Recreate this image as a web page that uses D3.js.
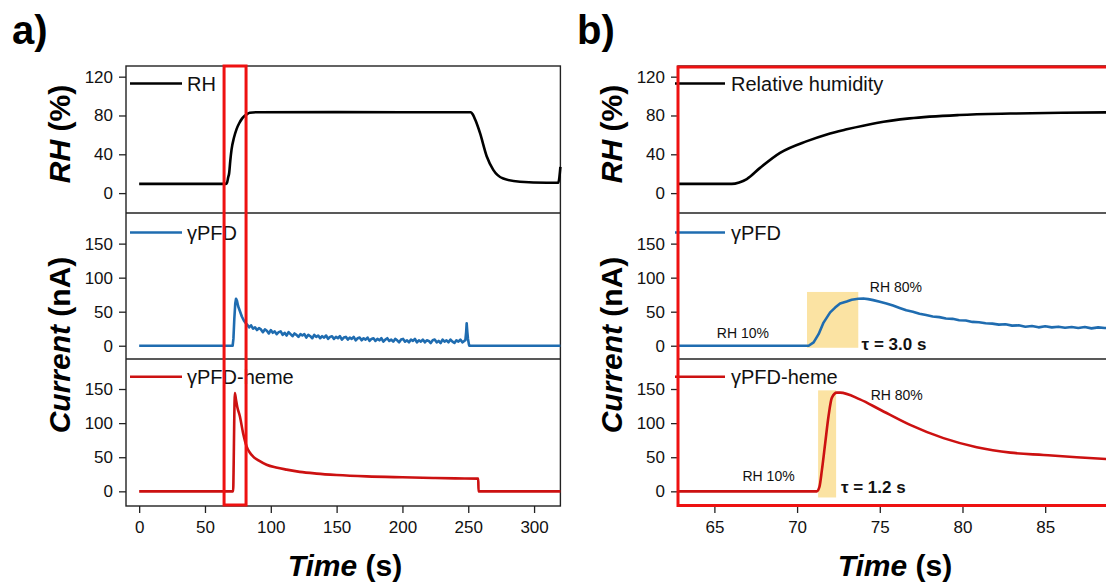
<!DOCTYPE html>
<html>
<head>
<meta charset="utf-8">
<script src="https://cdn.jsdelivr.net/npm/d3@7"></script>
<style>
  html, body { margin: 0; padding: 0; background: #fff; }
  svg { display: block; }
  text { font-family: "Liberation Sans", Arial, Helvetica, sans-serif; }
</style>
</head>
<body>
<svg id="chart" width="1106" height="586"></svg>
<script>
// ---------- Data: full run (panel a) ----------
const rhFull = [
  [0, 9.5], [65.9, 9.5], [66.8, 11], [67.6, 16], [68.4, 21], [69.2, 33], [70.2, 45],
  [72, 57], [74, 66], [76, 72], [78, 76.5], [80, 79.5], [82, 81.5], [84, 82.8],
  [90, 83.4], [150, 83.5], [200, 83.4], [252, 83.3], [253.5, 81], [255.5, 75],
  [258.9, 62], [264, 38], [269, 24], [276.6, 15], [289.3, 11.7], [309.6, 10.7],
  [318.4, 10.7], [319.2, 16], [320, 27]
];

const pfdFull = [
  [0, 0], [71, 0], [71.6, 10], [72.3, 40], [73, 62], [73.6, 69], [74.3, 66], [75.2, 58],
  [76.5, 51], [78, 43], [79.5, 37], [81, 33],
  [82, 31], [83.5, 27], [85, 30], [86.5, 25], [88, 27], [89.5, 23], [91, 26], [92.5, 24],
  [94, 20], [95.5, 24], [97, 22], [98.5, 18], [100, 23], [101.5, 19], [103, 21], [104.5, 17],
  [106, 20], [107.5, 21], [109, 16], [110.5, 19], [112, 15], [113.5, 20], [115, 17], [116.5, 14],
  [118, 18], [119.5, 16], [121, 13], [122.5, 17], [124, 15], [125.5, 17], [127, 12], [128.5, 16],
  [130, 14], [131.5, 11], [133, 16], [134.5, 13], [136, 15], [137.5, 11], [139, 14], [140.5, 12],
  [142, 15], [143.5, 10], [145, 13], [146.5, 14], [148, 10], [149.5, 13], [151, 11], [152.5, 14],
  [154, 9], [155.5, 12], [157, 13], [158.5, 9], [160, 12], [161.5, 10], [163, 13], [164.5, 8],
  [166, 11], [167.5, 12], [169, 8], [170.5, 11], [172, 9], [173.5, 12], [175, 7], [176.5, 10],
  [178, 11], [179.5, 7], [181, 10], [182.5, 8], [184, 11], [185.5, 6], [187, 9], [188.5, 11],
  [190, 7], [191.5, 9], [193, 6], [194.5, 10], [196, 8], [197.5, 5], [199, 9], [200.5, 10],
  [202, 6], [203.5, 8], [205, 5], [206.5, 9], [208, 7], [209.5, 10], [211, 5], [212.5, 8],
  [214, 6], [215.5, 9], [217, 5], [218.5, 8], [220, 7], [221.5, 4], [223, 8], [224.5, 9],
  [226, 5], [227.5, 7], [229, 4], [230.5, 9], [232, 6], [233.5, 8], [235, 5], [236.5, 9],
  [238, 6], [239.5, 4], [241, 8], [242.5, 6], [244, 9], [245.5, 5], [247, 7],
  [247.8, 8], [248.4, 20], [248.8, 33], [249.3, 20], [249.8, 10], [250.5, 2], [250.8, 0],
  [320, 0]
];

const hemeFull = [
  [0, 0], [71.4, 0], [71.8, 40], [72.2, 100], [72.7, 144], [73.5, 135], [74.5, 124],
  [76.5, 110], [79, 85], [81.6, 66], [84, 57], [86.6, 51], [91, 45], [96.8, 39],
  [104, 35], [112, 31.8], [122, 28.5], [134.8, 26], [150, 24], [172.8, 22],
  [200, 20.6], [223.4, 19.6], [240, 19], [257.6, 18.6], [257.8, 0], [320, 0]
];

// ---------- Data: zoomed step (panel b) ----------
const rhZoom = [
  [62.8, 9.5], [66.05, 9.5], [66.5, 11], [66.96, 14.5], [67.76, 26], [68.97, 41.5],
  [70.6, 53.6], [71.8, 60.5], [73, 65.7], [74.8, 72.3], [76.8, 77], [79.8, 80.5],
  [82.9, 82], [86, 82.8], [89, 83.2]
];

const pfdZoom = [
  [62.8, 0], [70.7, 0], [71.0, 5], [71.3, 17], [71.6, 34], [72.0, 49], [72.3, 56],
  [72.6, 62], [73.0, 65], [73.3, 67.5], [73.7, 69], [74.0, 69.5], [74.3, 68.5],
  [74.6, 67], [75.0, 64.5], [75.4, 62], [75.8, 59], [76.2, 55.5], [76.6, 52],
  [77.0, 50], [77.4, 47], [77.8, 45], [78.2, 43], [78.6, 42], [79.0, 40],
  [79.4, 39.5], [79.8, 37.5], [80.2, 37], [80.6, 35], [81.0, 34.5], [81.4, 33],
  [81.8, 32.5], [82.2, 31], [82.6, 31.5], [83.0, 29.5], [83.4, 30], [83.8, 28],
  [84.2, 29], [84.6, 27], [85.0, 28.5], [85.4, 27], [85.8, 28], [86.2, 26.5],
  [86.6, 27.5], [87.0, 26], [87.4, 27.5], [87.8, 25.5], [88.2, 27], [88.6, 26],
  [89, 26.5]
];

const hemeZoom = [
  [62.8, 0], [71.19, 0], [71.35, 6.4], [71.5, 31], [71.7, 70.6], [71.9, 110],
  [72.1, 137], [72.4, 144.7], [72.6, 144.7], [73.8, 134.8], [75.0, 120],
  [76.8, 97.8], [78.85, 78], [80.86, 64.7], [82.9, 56.7], [84.9, 53.3],
  [86.9, 50], [89, 47]
];

// Response-time windows [t0, t1, yLow, yHigh] and their labels
const pfdWindow = [70.6, 73.7, -3, 79];
const hemeWindow = [71.27, 72.36, -9, 148];
const pfdNotes = [
  { text: "RH 10%", t: 65.15, v: 12, bold: false },
  { text: "RH 80%", t: 74.4, v: 79, bold: false },
  { text: "τ = 3.0 s", t: 73.9, v: -6, bold: true }
];
const hemeNotes = [
  { text: "RH 10%", t: 66.7, v: 15, bold: false },
  { text: "RH 80%", t: 74.45, v: 134, bold: false },
  { text: "τ = 1.2 s", t: 72.65, v: -2.5, bold: true }
];

// Ticks and labels
const rhTicks = [0, 40, 80, 120];
const curTicks = [0, 50, 100, 150];
const timeTicksFull = [0, 50, 100, 150, 200, 250, 300];
const timeTicksZoom = [65, 70, 75, 80, 85];
const zoomWindow = [64.5, 81.2];

const colors = { rh: "#000000", pfd: "#1f6cb0", heme: "#cc1111", frame: "#ee1111", tau: "#fbe3a3" };

// ---------- Layout ----------
const svg = d3.select("#chart");
const rowTop = 66, row1 = 213, row2 = 359, rowBottom = 506;

const yRH = d3.scaleLinear().domain([-20.5, 131]).range([row1, rowTop]);
const yCur1 = d3.scaleLinear().domain([-19.5, 195]).range([row2, row1]);
const yCur2 = d3.scaleLinear().domain([-21.5, 194]).range([rowBottom, row2]);

function drawPanel(opt) {
  const g = svg.append("g");
  const x = opt.x;
  const [x0, x1] = x.range();

  // response-time shading goes under the traces
  (opt.windows || []).forEach(w => {
    const ys = w.y;
    g.append("rect")
      .attr("x", x(w.box[0])).attr("width", x(w.box[1]) - x(w.box[0]))
      .attr("y", ys(w.box[3])).attr("height", ys(w.box[2]) - ys(w.box[3]))
      .attr("fill", colors.tau);
  });

  // frame and row dividers
  g.append("rect").attr("x", x0).attr("y", rowTop).attr("width", x1 - x0)
    .attr("height", rowBottom - rowTop).attr("fill", "none")
    .attr("stroke", "#222").attr("stroke-width", 1.4);
  [row1, row2].forEach(yy => g.append("line")
    .attr("x1", x0).attr("x2", x1).attr("y1", yy).attr("y2", yy)
    .attr("stroke", "#222").attr("stroke-width", 1.4));

  const rows = [
    { y: yRH, ticks: rhTicks, data: opt.rh, color: colors.rh, label: opt.rhLabel, legY: rowTop + 17.5, curve: d3.curveMonotoneX },
    { y: yCur1, ticks: curTicks, data: opt.pfd, color: colors.pfd, label: "γPFD", legY: row1 + 19.5, curve: d3.curveLinear },
    { y: yCur2, ticks: curTicks, data: opt.heme, color: colors.heme, label: "γPFD-heme", legY: row2 + 17.7, curve: d3.curveMonotoneX }
  ];

  rows.forEach(r => {
    const ax = g.append("g").attr("transform", `translate(${x0},0)`)
      .call(d3.axisLeft(r.y).tickValues(r.ticks).tickSize(7).tickPadding(6).tickSizeOuter(0));
    ax.select(".domain").remove();
    ax.selectAll("line").attr("stroke", "#222").attr("stroke-width", 1.3);
    ax.selectAll("text").attr("font-size", 17).attr("fill", "#111")
      .style("font-family", '"Liberation Sans", Arial, sans-serif');

    const line = d3.line().x(d => x(d[0])).y(d => r.y(d[1])).curve(r.curve);
    g.append("path").datum(r.data).attr("d", line)
      .attr("fill", "none").attr("stroke", r.color).attr("stroke-width", 2.6)
      .attr("stroke-linejoin", "round");

    g.append("line").attr("x1", x0 + opt.leg[0]).attr("x2", x0 + opt.leg[1])
      .attr("y1", r.legY).attr("y2", r.legY)
      .attr("stroke", r.color).attr("stroke-width", 2.6);
    g.append("text").attr("x", x0 + opt.leg[2]).attr("y", r.legY + 7.5)
      .attr("font-size", 20).attr("fill", "#111").text(r.label);
  });

  // bottom time axis
  const xa = g.append("g").attr("transform", `translate(0,${rowBottom})`)
    .call(d3.axisBottom(x).tickValues(opt.xTicks).tickSize(7).tickPadding(8).tickSizeOuter(0));
  xa.select(".domain").remove();
  xa.selectAll("line").attr("stroke", "#222").attr("stroke-width", 1.3);
  xa.selectAll("text").attr("font-size", 17).attr("fill", "#111")
    .style("font-family", '"Liberation Sans", Arial, sans-serif');

  // annotations
  (opt.notes || []).forEach(n => {
    n.items.forEach(it => {
      g.append("text").attr("x", x(it.t)).attr("y", n.y(it.v))
        .attr("font-size", it.bold ? 17 : 14)
        .attr("font-weight", it.bold ? "bold" : "normal")
        .attr("fill", "#111").text(it.text);
    });
  });

  // axis titles
  const yTitle = (cx, cy, ital, rest) => {
    const t = g.append("text").attr("transform", `translate(${cx},${cy}) rotate(-90)`)
      .attr("text-anchor", "middle").attr("font-size", 30).attr("font-weight", "bold");
    t.append("tspan").attr("font-style", "italic").text(ital);
    t.append("tspan").text(rest);
  };
  yTitle(opt.titleX, 134, "RH", " (%)");
  yTitle(opt.titleX, 345, "Current", " (nA)");
  const xt = g.append("text").attr("x", opt.timeX).attr("y", 576)
    .attr("text-anchor", "middle").attr("font-size", 30).attr("font-weight", "bold");
  xt.append("tspan").attr("font-style", "italic").text("Time");
  xt.append("tspan").text(" (s)");

  svg.append("text").attr("x", opt.tagX).attr("y", 44).attr("font-size", 40)
    .attr("font-weight", "bold").attr("fill", "#000").text(opt.tag);

  return g;
}

// Panel a: whole humidity cycle
const xFull = d3.scaleLinear().domain([-10, 320]).range([126, 560.4]);
const gA = drawPanel({
  x: xFull, rh: rhFull, pfd: pfdFull, heme: hemeFull, rhLabel: "RH",
  xTicks: timeTicksFull, leg: [4, 56, 61], titleX: 70, timeX: 345, tag: "a)", tagX: 12
});
// window shown enlarged in panel b
gA.append("rect")
  .attr("x", xFull(zoomWindow[0])).attr("y", rowTop)
  .attr("width", xFull(zoomWindow[1]) - xFull(zoomWindow[0]))
  .attr("height", rowBottom - rowTop - 1)
  .attr("fill", "none").attr("stroke", colors.frame).attr("stroke-width", 3);

// Panel b: enlarged rising edge
const xZoom = d3.scaleLinear().domain([62.8, 89]).range([678, 678 + 26.2 * 16.54]);
const gB = drawPanel({
  x: xZoom, rh: rhZoom, pfd: pfdZoom, heme: hemeZoom, rhLabel: "Relative humidity",
  xTicks: timeTicksZoom, leg: [-3, 47, 53], titleX: 622, timeX: 895, tag: "b)", tagX: 577,
  windows: [{ box: pfdWindow, y: yCur1 }, { box: hemeWindow, y: yCur2 }],
  notes: [{ y: yCur1, items: pfdNotes }, { y: yCur2, items: hemeNotes }]
});
gB.append("rect")
  .attr("x", 678).attr("y", 67).attr("width", 460).attr("height", 438.5)
  .attr("fill", "none").attr("stroke", colors.frame).attr("stroke-width", 3);
</script>
</body>
</html>
